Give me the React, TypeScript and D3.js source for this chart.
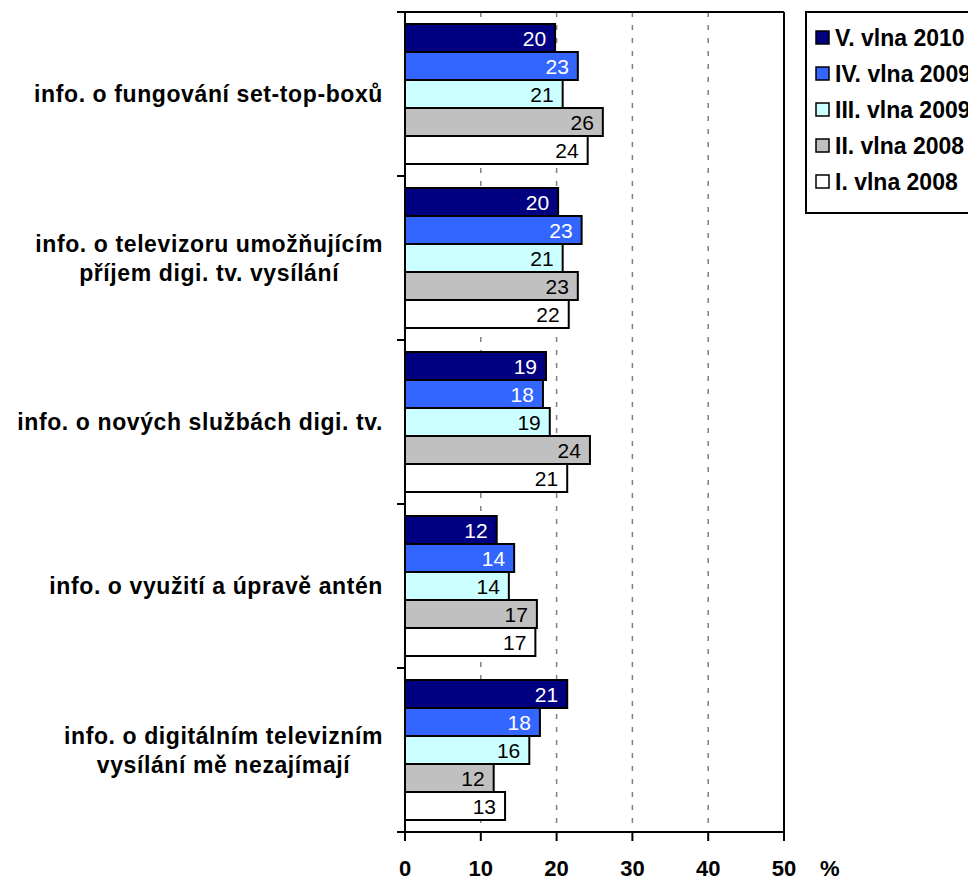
import React, { useEffect, useRef } from 'react';
import * as d3 from 'd3';

// Data
const categories = [
  ['info. o fungování set-top-boxů'],
  ['info. o televizoru umožňujícím', 'příjem digi. tv. vysílání'],
  ['info. o nových službách digi. tv.'],
  ['info. o využití a úpravě antén'],
  ['info. o digitálním televizním', 'vysílání mě nezajímají'],
];
const seriesNames = ['V. vlna 2010', 'IV. vlna 2009', 'III. vlna 2009', 'II. vlna 2008', 'I. vlna 2008'];
const seriesColors = ['#000080', '#3366ff', '#ccffff', '#c0c0c0', '#ffffff'];
const labelColors = ['#ffffff', '#ffffff', '#000000', '#000000', '#000000'];
const v2010 = [19.8, 20.2, 18.6, 12.1, 21.4];
const iv2009 = [22.8, 23.3, 18.2, 14.4, 17.8];
const iii2009 = [20.8, 20.8, 19.1, 13.7, 16.4];
const ii2008 = [26.1, 22.8, 24.4, 17.4, 11.7];
const i2008 = [24.1, 21.6, 21.4, 17.2, 13.2];
const seriesValues = [v2010, iv2009, iii2009, ii2008, i2008];
const xTicks = [0, 10, 20, 30, 40, 50];

const App = () => {
  const svgRef = useRef<SVGSVGElement>(null);

  useEffect(() => {
    const W = 968;
    const H = 882;
    const margin = { top: 12, right: 184, bottom: 50, left: 405 };
    const width = W - margin.left - margin.right;
    const height = H - margin.top - margin.bottom;

    const root = d3.select(svgRef.current)
      .attr('width', W)
      .attr('height', H)
      .style('display', 'block')
      .style('font-family', 'Arial, "Liberation Sans", sans-serif');
    root.selectAll('*').remove();

    const svg = root.append('g')
      .attr('transform', `translate(${margin.left},${margin.top})`);

    const x = d3.scaleLinear().domain([0, 50]).range([0, width]);
    const y = d3.scaleBand<number>()
      .domain(categories.map((_, i) => i))
      .range([0, height]);
    const ySub = d3.scaleBand<number>()
      .domain(seriesNames.map((_, i) => i))
      .range([12, y.bandwidth() - 12]);

    // dashed gridlines
    svg.selectAll('.grid')
      .data(xTicks.slice(1, -1))
      .enter()
      .append('line')
      .attr('x1', d => x(d))
      .attr('x2', d => x(d))
      .attr('y1', 0)
      .attr('y2', height)
      .style('stroke', '#808080')
      .style('stroke-width', 1.5)
      .style('stroke-dasharray', '5,8');

    // bars
    seriesValues.forEach((vals, s) => {
      const g = svg.append('g');
      g.selectAll('rect')
        .data(vals)
        .enter()
        .append('rect')
        .attr('x', 0)
        .attr('y', (_, i) => (y(i) as number) + (ySub(s) as number))
        .attr('width', d => x(d))
        .attr('height', ySub.bandwidth())
        .style('fill', seriesColors[s])
        .style('stroke', '#000')
        .style('stroke-width', 2);
      g.selectAll('text')
        .data(vals)
        .enter()
        .append('text')
        .attr('x', d => x(d) - 9)
        .attr('y', (_, i) => (y(i) as number) + (ySub(s) as number) + ySub.bandwidth() / 2)
        .attr('dy', '0.36em')
        .attr('text-anchor', 'end')
        .style('font-size', '21px')
        .style('fill', labelColors[s])
        .text(d => d3.format('.0f')(d));
    });

    // frame top & right
    svg.append('line')
      .attr('x1', -8).attr('x2', width).attr('y1', 0).attr('y2', 0)
      .style('stroke', '#000').style('stroke-width', 2);
    svg.append('line')
      .attr('x1', width).attr('x2', width).attr('y1', 0).attr('y2', height)
      .style('stroke', '#000').style('stroke-width', 2);

    // y axis
    svg.append('line')
      .attr('x1', 0).attr('x2', 0).attr('y1', 0).attr('y2', height)
      .style('stroke', '#000').style('stroke-width', 2);
    svg.selectAll('.ytick')
      .data(d3.range(categories.length + 1))
      .enter()
      .append('line')
      .attr('x1', -8).attr('x2', 0)
      .attr('y1', d => d * y.step())
      .attr('y2', d => d * y.step())
      .style('stroke', '#000').style('stroke-width', 2);

    // x axis
    svg.append('line')
      .attr('x1', -8).attr('x2', width).attr('y1', height).attr('y2', height)
      .style('stroke', '#000').style('stroke-width', 2);
    svg.selectAll('.xtick')
      .data(xTicks)
      .enter()
      .append('line')
      .attr('x1', d => x(d)).attr('x2', d => x(d))
      .attr('y1', height).attr('y2', height + 9)
      .style('stroke', '#000').style('stroke-width', 2);
    svg.selectAll('.xlabel')
      .data(xTicks)
      .enter()
      .append('text')
      .attr('x', d => x(d))
      .attr('y', height + 44)
      .attr('text-anchor', 'middle')
      .style('font-size', '22px')
      .style('font-weight', 'bold')
      .text(d => d);
    svg.append('text')
      .attr('x', x(50) + 36)
      .attr('y', height + 44)
      .style('font-size', '22px')
      .style('font-weight', 'bold')
      .text('%');

    // category labels: block right-aligned, lines centred within block
    categories.forEach((lines, i) => {
      const cy = (y(i) as number) + y.bandwidth() / 2;
      const t = svg.append('text')
        .attr('text-anchor', 'middle')
        .style('font-size', '23px')
        .style('font-weight', 'bold')
        .style('letter-spacing', '0.6px');
      const spans = lines.map((line, j) =>
        t.append('tspan')
          .attr('y', cy + (j - (lines.length - 1) / 2) * 29)
          .attr('dy', '0.36em')
          .text(line));
      const maxW = d3.max(spans, sp => (sp.node() as SVGTSpanElement).getComputedTextLength()) || 0;
      spans.forEach(sp => sp.attr('x', -22 - maxW / 2));
    });

    // legend
    const lg = root.append('g').attr('transform', 'translate(806,12)');
    lg.append('rect')
      .attr('x', 0).attr('y', 0)
      .attr('width', 200).attr('height', 201)
      .style('fill', '#fff')
      .style('stroke', '#000')
      .style('stroke-width', 2);
    seriesNames.forEach((name, s) => {
      const cy = 26 + s * 36;
      lg.append('rect')
        .attr('x', 10).attr('y', cy - 7)
        .attr('width', 13).attr('height', 13)
        .style('fill', seriesColors[s])
        .style('stroke', '#000')
        .style('stroke-width', 1.5);
      lg.append('text')
        .attr('x', 29).attr('y', cy)
        .attr('dy', '0.36em')
        .style('font-size', '23px')
        .style('font-weight', 'bold')
        .text(name);
    });
  }, []);

  return (
    <div style={{ position: 'absolute', left: 0, top: 0 }}>
      <svg ref={svgRef}></svg>
    </div>
  );
};

export default App;
